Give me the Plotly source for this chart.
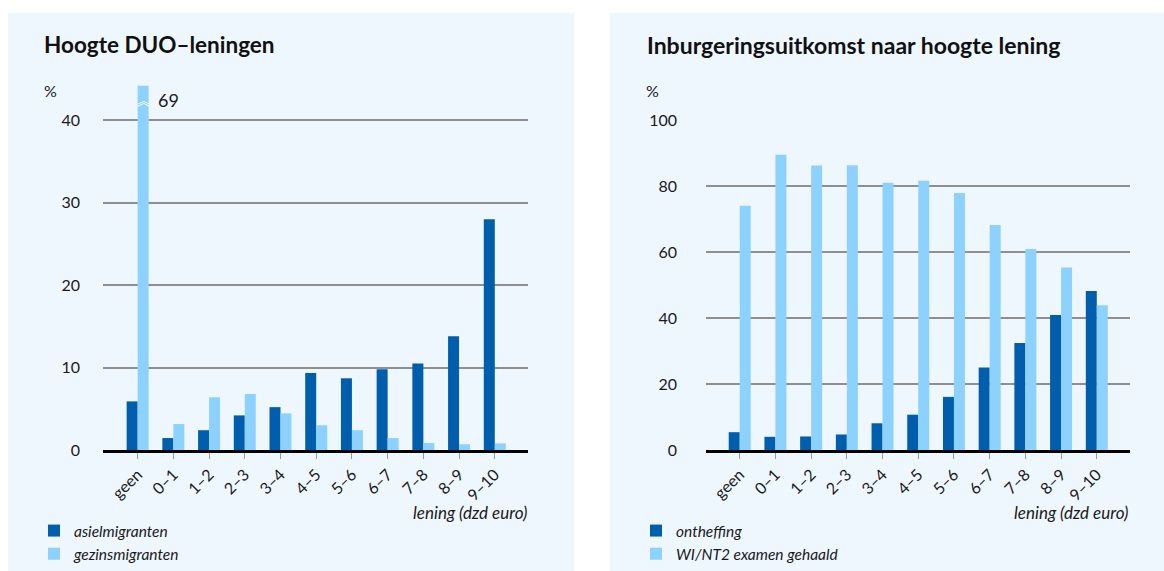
import plotly.graph_objects as go

categories = ["geen", "0–1", "1–2", "2–3", "3–4", "4–5", "5–6", "6–7", "7–8", "8–9", "9–10"]
asielmigranten = [5.9, 1.45, 2.4, 4.2, 5.2, 9.35, 8.7, 9.8, 10.5, 13.8, 28.0]
gezinsmigranten = [69, 3.15, 6.4, 6.8, 4.45, 3.0, 2.4, 1.45, 0.85, 0.7, 0.8]
ontheffing = [5.4, 4.0, 4.1, 4.7, 8.1, 10.7, 16.1, 25.0, 32.4, 40.9, 48.2]
examen_gehaald = [74.0, 89.5, 86.2, 86.3, 81.0, 81.6, 77.9, 68.2, 60.9, 55.3, 43.9]
left_yticks = [0, 10, 20, 30, 40]
right_yticks = [0, 20, 40, 60, 80, 100]
capped_label = "69"

DARK = "#005EAD"
LIGHT = "#8DD2FF"
BG = "#EEF7FE"
FONT = "Lato"
TXT = "#1a1a1a"
W, H = 1164, 571


def px(x):
    return x / W


def py(y):
    return 1 - y / H


fig = go.Figure()
fig.add_trace(go.Bar(x=categories, y=asielmigranten, name="<i>asielmigranten</i>", marker=dict(color=DARK, line=dict(width=0)),
                     xaxis="x", yaxis="y", legend="legend"))
fig.add_trace(go.Bar(x=categories, y=gezinsmigranten, name="<i>gezinsmigranten</i>", marker=dict(color=LIGHT, line=dict(width=0)),
                     xaxis="x", yaxis="y", legend="legend"))
fig.add_trace(go.Bar(x=categories, y=ontheffing, name="<i>ontheffing</i>", marker=dict(color=DARK, line=dict(width=0)),
                     xaxis="x2", yaxis="y2", legend="legend2"))
fig.add_trace(go.Bar(x=categories, y=examen_gehaald, name="<i>WI/NT2 examen gehaald</i>", marker=dict(color=LIGHT, line=dict(width=0)),
                     xaxis="x2", yaxis="y2", legend="legend2"))

xcommon = dict(type="category", tickangle=-45, showline=True, linecolor="black", linewidth=3,
               ticks="outside", ticklen=6, tickcolor="#9a9a9a", tickwidth=1, showgrid=False, automargin=False,
               tickfont=dict(family=FONT, size=16, color=TXT), fixedrange=True)
ycommon = dict(showgrid=True, gridcolor="#8f8f8f", gridwidth=1.5, zeroline=False, ticks="", automargin=False,
               showline=False, tickfont=dict(family=FONT, size=16, color=TXT), fixedrange=True)

legend_common = dict(yanchor="bottom", y=0, xanchor="left", bgcolor="rgba(0,0,0,0)",
                     font=dict(family=FONT, size=15.5, color=TXT), tracegroupgap=0, traceorder="normal")

left_top = 85.8
fig.update_layout(
    width=W, height=H,
    margin=dict(l=0, r=0, t=0, b=0),
    paper_bgcolor="white", plot_bgcolor="rgba(0,0,0,0)",
    barmode="group", bargap=0.384, bargroupgap=0,
    font=dict(family=FONT, color=TXT),
    xaxis=dict(xcommon, domain=[px(103), px(528)], range=[-0.97, 10.93], anchor="y"),
    yaxis=dict(ycommon, domain=[py(450), py(left_top)], range=[0, 44.2], tickvals=left_yticks,
               ticklabelstandoff=22, anchor="x"),
    xaxis2=dict(xcommon, domain=[px(706), px(1130)], range=[-0.944, 10.93], anchor="y2"),
    yaxis2=dict(ycommon, domain=[py(450), py(120)], range=[0, 100], tickvals=right_yticks,
                ticklabelstandoff=28, anchor="x2"),
    legend=dict(legend_common, x=px(34)),
    legend2=dict(legend_common, x=px(636)),
    shapes=[
        dict(type="rect", xref="paper", yref="paper", x0=px(8), x1=px(574), y0=0, y1=py(13),
             fillcolor=BG, line=dict(width=0), layer="below"),
        dict(type="rect", xref="paper", yref="paper", x0=px(610), x1=1, y0=0, y1=py(13),
             fillcolor=BG, line=dict(width=0), layer="below"),
    ],
)

ann = []
ann.append(dict(text="<b>Hoogte DUO–leningen</b>", x=px(42), y=py(45), xref="paper", yref="paper",
                xanchor="left", yanchor="middle", showarrow=False, font=dict(size=22.5, color="#111")))
ann.append(dict(text="<b>Inburgeringsuitkomst naar hoogte lening</b>", x=px(645), y=py(45), xref="paper", yref="paper",
                xanchor="left", yanchor="middle", showarrow=False, font=dict(size=23, color="#111")))
for xx in (42, 644):
    ann.append(dict(text="%", x=px(xx), y=py(90), xref="paper", yref="paper", xanchor="left",
                    yanchor="middle", showarrow=False, font=dict(size=16)))
for xx in (529, 1130):
    ann.append(dict(text="<i>lening (dzd euro)</i>", x=px(xx), y=py(512), xref="paper", yref="paper",
                    xanchor="right", yanchor="middle", showarrow=False, font=dict(size=17)))
ann.append(dict(text=capped_label, x=px(156), y=py(100), xref="paper", yref="paper", xanchor="left",
                yanchor="middle", showarrow=False, font=dict(size=18)))
ann.append(dict(text="︽", x=categories[0], xref="x", xshift=5.5, y=py(99), yref="paper",
                xanchor="center", yanchor="middle", showarrow=False,
                font=dict(size=13, color="white", family="Noto Sans CJK SC")))
fig.update_layout(annotations=ann)

fig.write_html("out.html", config={"displayModeBar": False},
               post_script="document.body.style.margin='0';document.body.style.overflow='hidden';")
